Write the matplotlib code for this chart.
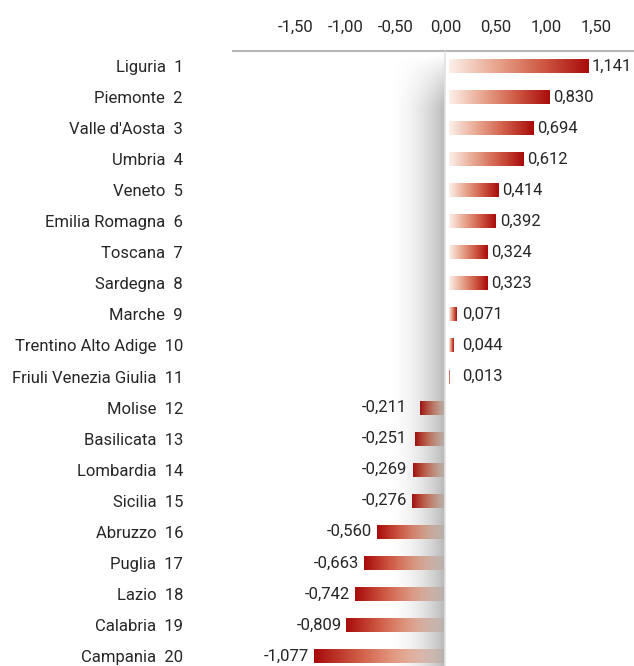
import numpy as np
import matplotlib
matplotlib.use("Agg")
import matplotlib.pyplot as plt
from matplotlib.colors import LinearSegmentedColormap

regions = ["Liguria", "Piemonte", "Valle d'Aosta", "Umbria", "Veneto",
           "Emilia Romagna", "Toscana", "Sardegna", "Marche",
           "Trentino Alto Adige", "Friuli Venezia Giulia", "Molise",
           "Basilicata", "Lombardia", "Sicilia", "Abruzzo", "Puglia",
           "Lazio", "Calabria", "Campania"]
values = [1.141, 0.830, 0.694, 0.612, 0.414, 0.392, 0.324, 0.323, 0.071,
          0.044, 0.013, -0.211, -0.251, -0.269, -0.276, -0.560, -0.663,
          -0.742, -0.809, -1.077]
ticks = [-1.5, -1.0, -0.5, 0.0, 0.5, 1.0, 1.5]

plt.rcParams['font.family'] = ['Roboto', 'DejaVu Sans']
txt = '#262626'
fs = 12

cmap = LinearSegmentedColormap.from_list(
    'bar', ['#fdf0ea', '#e8a68f', '#cf5a44', '#a80b0b'])
grad = np.linspace(0, 1, 256).reshape(1, -1)

fig = plt.figure(figsize=(6.34, 6.66), dpi=100)
ax = fig.add_axes([233 / 634, 0, 401 / 634, 615 / 666])

ppu = 123.0  # pixels per unit for the bars
x0, x1 = -(446 - 233) / ppu, (634 - 446) / ppu
n = len(values)

h = 0.45
for i, v in enumerate(values):
    if v >= 0:
        ax.imshow(grad, cmap=cmap, aspect='auto', extent=[0.025, 0.015 + v, i + h / 2, i - h / 2],
                  interpolation='bicubic', zorder=2)
        lx = max(v, 0.09) + 0.045
        ax.text(lx, i, f"{v:.3f}".replace('.', ','), ha='left', va='center',
                fontsize=fs, color=txt)
    else:
        ax.imshow(grad[:, ::-1], cmap=cmap, aspect='auto', extent=[v, -0.015, i + h / 2, i - h / 2],
                  interpolation='bicubic', zorder=2)
        lx = min(v, -0.28) - 0.04
        ax.text(lx, i, f"{v:.3f}".replace('.', ','), ha='right', va='center',
                fontsize=fs, color=txt)

# shadow on the left of the zero line
sx0, sx1 = -0.5, -0.015
sy0, sy1 = -0.35, n - 1 + 0.322
nx, ny = 200, 300
tx = np.linspace(0, 1, nx) ** 2.0
yy = np.linspace(sy0, sy1, ny)
ty = np.clip((yy - sy0) / 1.7, 0, 1) ** 0.8
alpha = 0.40 * ty[:, None] * tx[None, :]
rgba = np.zeros((ny, nx, 4))
rgba[..., :3] = 0.3
rgba[..., 3] = alpha
ax.imshow(rgba, aspect='auto', extent=[sx0, sx1, sy1, sy0], interpolation='bilinear', zorder=3)
ax.axvline(-0.008, color='#e2e2e2', lw=1.2, zorder=3)
ax.set_xlim(x0, x1)
ax.set_ylim(n - 1 + 0.322, -0.483)

ax.set_yticks(range(n))
ax.set_yticklabels([f"{r}  {i + 1}" for i, r in enumerate(regions)],
                   fontsize=fs, color=txt)
ax.tick_params(axis='y', length=0, pad=36)
ax.set_xticks([])
for s in ['left', 'right', 'bottom']:
    ax.spines[s].set_visible(False)
ax.spines['top'].set_color('#b5b5b5')
ax.spines['top'].set_linewidth(1.5)

# tick axis on top
top = ax.twiny()
top.set_xlim(-(446 - 233) / 100, (634 - 446) / 100)
top.set_xticks(ticks)
top.set_xticklabels([f"{t:.2f}".replace('.', ',') for t in ticks],
                    fontsize=fs, color=txt)
top.tick_params(axis='x', length=0, pad=12)
for s in top.spines.values():
    s.set_visible(False)

fig.savefig("out.png", dpi=100)
